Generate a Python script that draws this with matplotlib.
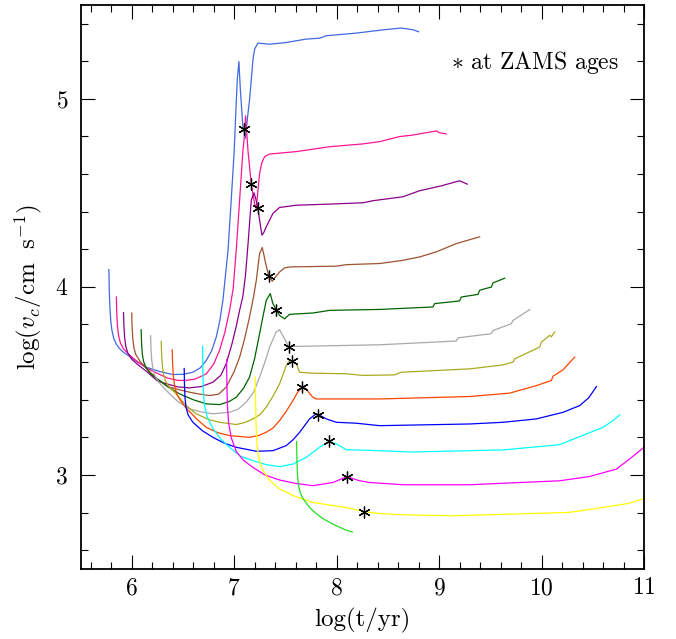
import numpy as np
import matplotlib
matplotlib.use("Agg")
from matplotlib import pyplot as plt
from matplotlib.ticker import MultipleLocator

plt.rcParams['font.family'] = 'serif'
plt.rcParams['font.serif'] = ['cmr10', 'DejaVu Serif']
plt.rcParams['mathtext.fontset'] = 'cm'
plt.rcParams['axes.formatter.use_mathtext'] = True

# log(t/yr) and log(v_c) for each track
t_royal = [5.777, 5.781, 5.788, 5.797, 5.808, 5.825, 5.85, 5.88, 5.92, 5.978, 6.06, 6.141, 6.27, 6.40, 6.50,
           6.597, 6.67, 6.727, 6.78, 6.825, 6.86, 6.89, 6.94, 6.971, 7.00, 7.014, 7.03, 7.046, 7.06, 7.085,
           7.111, 7.13, 7.15, 7.17, 7.183, 7.20, 7.232, 7.345, 7.508, 7.70, 7.834, 7.9, 8.192, 8.355, 8.517,
           8.63, 8.745, 8.80]
v_royal = [4.092, 3.98, 3.88, 3.81, 3.765, 3.725, 3.695, 3.672, 3.652, 3.63, 3.60, 3.573, 3.55, 3.534, 3.535,
           3.546, 3.57, 3.608, 3.66, 3.733, 3.82, 3.928, 4.195, 4.461, 4.72, 4.905, 5.10, 5.198, 5.05, 4.852,
           4.79, 4.90, 4.994, 5.12, 5.207, 5.265, 5.296, 5.29, 5.299, 5.317, 5.322, 5.335, 5.349, 5.36, 5.37,
           5.376, 5.367, 5.356]

t_pink = [5.85, 5.854, 5.861, 5.872, 5.89, 5.92, 5.978, 6.06, 6.141, 6.25, 6.35, 6.45, 6.52, 6.62, 6.727, 6.80,
          6.857, 6.91, 6.955, 6.99, 7.02, 7.053, 7.085, 7.102, 7.111, 7.125, 7.134, 7.167, 7.199, 7.216, 7.23,
          7.248, 7.27, 7.297, 7.345, 7.606, 7.932, 8.257, 8.42, 8.615, 8.745, 8.973, 9.0, 9.07]
v_pink = [3.946, 3.86, 3.79, 3.74, 3.70, 3.67, 3.638, 3.60, 3.57, 3.54, 3.515, 3.503, 3.502, 3.51, 3.537, 3.59,
          3.662, 3.76, 3.875, 3.99, 4.195, 4.461, 4.72, 4.816, 4.909, 4.80, 4.728, 4.546, 4.443, 4.417, 4.50,
          4.603, 4.66, 4.692, 4.706, 4.719, 4.745, 4.76, 4.772, 4.799, 4.807, 4.829, 4.82, 4.813]

t_purple = [5.92, 5.924, 5.931, 5.942, 5.96, 6.0, 6.07, 6.141, 6.25, 6.337, 6.45, 6.564, 6.68, 6.792, 6.87,
            6.922, 6.98, 7.02, 7.053, 7.085, 7.11, 7.134, 7.167, 7.193, 7.21, 7.232, 7.248, 7.271, 7.29,
            7.313, 7.378, 7.443, 7.606, 7.932, 8.257, 8.355, 8.648, 8.81, 9.022, 9.2, 9.276]
v_purple = [3.863, 3.79, 3.73, 3.685, 3.65, 3.615, 3.582, 3.552, 3.50, 3.485, 3.468, 3.463, 3.47, 3.493, 3.53,
            3.591, 3.70, 3.79, 3.875, 3.95, 4.06, 4.22, 4.461, 4.50, 4.47, 4.417, 4.355, 4.275, 4.29,
            4.319, 4.39, 4.422, 4.434, 4.44, 4.447, 4.458, 4.479, 4.511, 4.537, 4.564, 4.546]

t_brown = [6.0, 6.004, 6.011, 6.022, 6.04, 6.08, 6.141, 6.25, 6.35, 6.45, 6.564, 6.66, 6.76, 6.85, 6.922, 7.0,
           7.053, 7.10, 7.15, 7.19, 7.216, 7.248, 7.274, 7.29, 7.307, 7.339, 7.372, 7.40, 7.443, 7.49, 7.541,
           7.997, 8.094, 8.42, 8.648, 8.81, 8.973, 9.168, 9.396]
v_brown = [3.86, 3.78, 3.72, 3.675, 3.64, 3.605, 3.567, 3.51, 3.47, 3.455, 3.44, 3.43, 3.422, 3.43, 3.467, 3.55,
           3.626, 3.72, 3.84, 3.95, 4.035, 4.177, 4.209, 4.17, 4.124, 4.056, 4.03, 4.05, 4.079, 4.10, 4.106,
           4.11, 4.118, 4.124, 4.141, 4.159, 4.186, 4.23, 4.266]

t_dgreen = [6.092, 6.096, 6.103, 6.115, 6.135, 6.18, 6.239, 6.35, 6.467, 6.6, 6.727, 6.857, 6.95, 7.02, 7.09,
            7.15, 7.20, 7.248, 7.28, 7.313, 7.352, 7.378, 7.41, 7.443, 7.492, 7.541, 7.769, 7.932, 8.42, 8.94,
            8.957, 9.2, 9.217, 9.38, 9.396, 9.51, 9.527, 9.64]
v_dgreen = [3.772, 3.70, 3.645, 3.605, 3.575, 3.54, 3.515, 3.47, 3.431, 3.40, 3.378, 3.374, 3.39, 3.413, 3.46,
            3.52, 3.62, 3.751, 3.84, 3.928, 3.964, 3.911, 3.879, 3.848, 3.83, 3.854, 3.861, 3.875, 3.88, 3.893,
            3.911, 3.925, 3.946, 3.96, 3.982, 3.999, 4.021, 4.046]

t_gray = [6.184, 6.188, 6.195, 6.207, 6.225, 6.26, 6.337, 6.45, 6.564, 6.68, 6.792, 6.955, 7.04, 7.118, 7.19,
          7.248, 7.30, 7.346, 7.41, 7.443, 7.482, 7.534, 7.574, 8.42, 9.168, 9.184, 9.51, 9.527, 9.705, 9.722,
          9.885]
v_gray = [3.74, 3.67, 3.61, 3.565, 3.53, 3.495, 3.449, 3.39, 3.351, 3.335, 3.325, 3.333, 3.35, 3.387, 3.44,
          3.52, 3.60, 3.68, 3.76, 3.772, 3.733, 3.68, 3.683, 3.692, 3.712, 3.729, 3.751, 3.768, 3.804, 3.822,
          3.879]

t_olive = [6.288, 6.292, 6.299, 6.31, 6.33, 6.36, 6.434, 6.53, 6.629, 6.75, 6.857, 7.02, 7.10, 7.183, 7.25,
           7.313, 7.38, 7.443, 7.508, 7.541, 7.567, 7.606, 7.639, 7.769, 8.095, 8.257, 8.566, 8.631, 9.3, 9.624,
           9.722, 9.738, 9.982, 9.998, 10.08, 10.096, 10.129]
v_olive = [3.71, 3.64, 3.58, 3.535, 3.50, 3.472, 3.431, 3.37, 3.325, 3.295, 3.28, 3.268, 3.278, 3.298, 3.32,
           3.36, 3.42, 3.484, 3.582, 3.609, 3.605, 3.591, 3.546, 3.541, 3.538, 3.529, 3.532, 3.546, 3.564, 3.585,
           3.6, 3.617, 3.68, 3.706, 3.742, 3.735, 3.76]

t_orange = [6.395, 6.399, 6.406, 6.418, 6.44, 6.47, 6.532, 6.63, 6.727, 6.84, 6.955, 7.15, 7.24, 7.313, 7.38,
            7.443, 7.51, 7.574, 7.62, 7.665, 7.704, 7.74, 7.769, 7.801, 8.42, 9.3, 9.689, 9.95, 10.096, 10.112,
            10.21, 10.324]
v_orange = [3.665, 3.59, 3.53, 3.475, 3.43, 3.40, 3.355, 3.30, 3.253, 3.225, 3.209, 3.2, 3.21, 3.227, 3.25,
            3.289, 3.34, 3.396, 3.44, 3.467, 3.458, 3.43, 3.413, 3.404, 3.404, 3.417, 3.435, 3.475, 3.502, 3.525,
            3.559, 3.627]

t_blue = [6.512, 6.515, 6.52, 6.53, 6.55, 6.597, 6.69, 6.792, 6.9, 7.02, 7.216, 7.378, 7.508, 7.58, 7.639,
          7.736, 7.801, 7.818, 7.86, 7.899, 7.997, 8.192, 8.42, 9.3, 9.624, 9.95, 10.21, 10.373, 10.46, 10.536]
v_blue = [3.566, 3.48, 3.41, 3.36, 3.32, 3.28, 3.235, 3.2, 3.17, 3.147, 3.126, 3.129, 3.156, 3.19, 3.227,
          3.298, 3.325, 3.321, 3.31, 3.298, 3.28, 3.275, 3.262, 3.271, 3.28, 3.298, 3.333, 3.369, 3.41, 3.47]

t_cyan = [6.691, 6.694, 6.699, 6.71, 6.735, 6.792, 6.87, 6.955, 7.06, 7.183, 7.31, 7.443, 7.574, 7.704, 7.834,
          7.925, 7.997, 8.095, 8.42, 8.713, 9.624, 10.177, 10.438, 10.6, 10.70, 10.763]
v_cyan = [3.685, 3.56, 3.45, 3.37, 3.31, 3.248, 3.19, 3.147, 3.10, 3.076, 3.055, 3.044, 3.058, 3.094, 3.147,
          3.179, 3.165, 3.134, 3.129, 3.122, 3.133, 3.161, 3.218, 3.253, 3.29, 3.319]

t_magenta = [6.926, 6.929, 6.934, 6.945, 6.97, 7.02, 7.09, 7.183, 7.30, 7.443, 7.6, 7.769, 7.964, 8.101, 8.16,
             8.225, 8.322, 8.648, 9.3, 10.177, 10.47, 10.73, 10.86, 11.0]
v_magenta = [3.612, 3.48, 3.37, 3.28, 3.20, 3.125, 3.078, 3.04, 3.00, 2.973, 2.955, 2.943, 2.96, 2.991, 2.98,
             2.969, 2.96, 2.948, 2.948, 2.969, 2.992, 3.031, 3.085, 3.147]

t_yellow = [7.206, 7.209, 7.214, 7.222, 7.24, 7.281, 7.35, 7.443, 7.6, 7.769, 7.93, 8.095, 8.257, 8.42, 8.648,
            9.136, 10.275, 10.6, 10.86, 11.0]
v_yellow = [3.52, 3.38, 3.26, 3.165, 3.085, 3.023, 2.97, 2.925, 2.885, 2.854, 2.84, 2.827, 2.806, 2.795, 2.788,
            2.783, 2.801, 2.827, 2.85, 2.875]

t_lime = [7.609, 7.612, 7.617, 7.626, 7.645, 7.671, 7.72, 7.769, 7.86, 7.964, 8.095, 8.153]
v_lime = [3.177, 3.09, 3.01, 2.95, 2.905, 2.875, 2.838, 2.809, 2.77, 2.738, 2.706, 2.697]

# ZAMS ages (asterisks)
t_zams = [7.092, 7.167, 7.232, 7.339, 7.41, 7.534, 7.567, 7.665, 7.818, 7.925, 8.101, 8.264]
v_zams = [4.838, 4.546, 4.417, 4.056, 3.879, 3.68, 3.605, 3.467, 3.321, 3.179, 2.991, 2.804]

tracks = [
  (t_royal, v_royal, '#4169E1'),
  (t_pink, v_pink, '#FF1493'),
  (t_purple, v_purple, '#8B008B'),
  (t_brown, v_brown, '#A0522D'),
  (t_dgreen, v_dgreen, '#006400'),
  (t_gray, v_gray, '#A9A9A9'),
  (t_olive, v_olive, '#AAAA1E'),
  (t_orange, v_orange, '#FF4500'),
  (t_blue, v_blue, '#0000FF'),
  (t_cyan, v_cyan, '#00FFFF'),
  (t_magenta, v_magenta, '#FF00FF'),
  (t_yellow, v_yellow, '#FFFF00'),
  (t_lime, v_lime, '#22DD22'),
]

fig = plt.figure(figsize=(6.76, 6.39), dpi=100)
ax = fig.add_axes([80.5 / 676, 1 - 569 / 639, 563.5 / 676, 564.3 / 639])

for t, v, cor in tracks:
  ax.plot(t, v, color=cor, lw=0.9)

# asteriscos nas idades de ZAMS
ax.plot(t_zams, v_zams, ls='none', marker=(6, 2, 0), ms=8.5, mew=0.9, color='k')

ax.text(0.658, 0.898, r'$\ast$ at ZAMS ages', transform=ax.transAxes, fontsize=17,
        ha='left', va='center')

ax.set_xlim(5.5, 11)
ax.set_ylim(2.5, 5.5)
ax.xaxis.set_major_locator(MultipleLocator(1))
ax.xaxis.set_minor_locator(MultipleLocator(0.2))
ax.yaxis.set_major_locator(MultipleLocator(1))
ax.yaxis.set_minor_locator(MultipleLocator(0.2))
ax.tick_params(which='both', direction='in', top=True, right=True, width=0.8, labelsize=17)
ax.tick_params(which='major', length=10)
ax.tick_params(which='minor', length=5)
ax.tick_params(axis='x', pad=6)
ax.tick_params(axis='y', pad=9)
for s in ax.spines.values():
  s.set_linewidth(1.3)

ax.set_xlabel('log(t/yr)', fontsize=18, labelpad=6)
ax.set_ylabel(r'$\mathrm{log}(v_c/\mathrm{cm\ \ s^{-1}})$', fontsize=18, labelpad=8)

plt.savefig('out.png', dpi=100)
